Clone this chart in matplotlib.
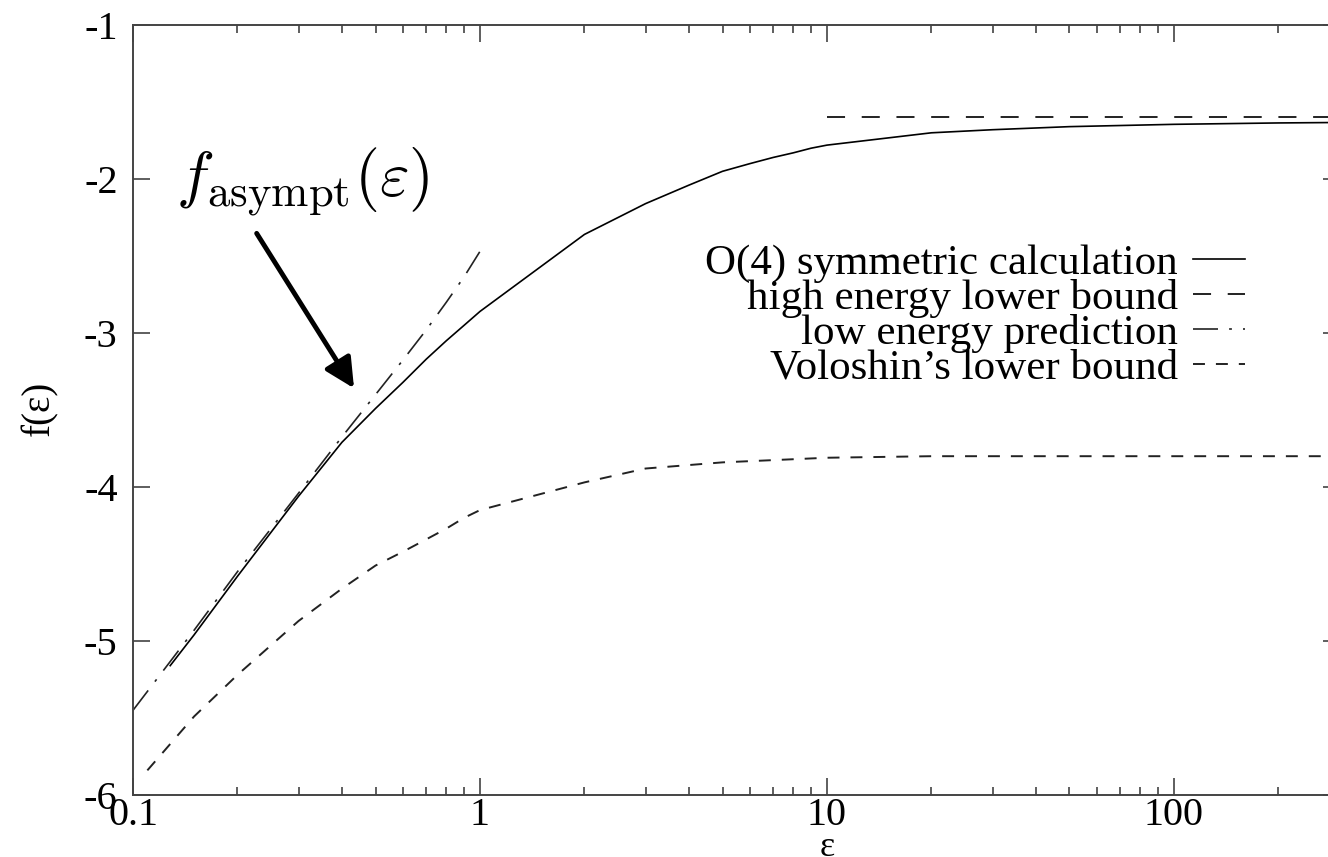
import matplotlib
matplotlib.use("Agg")
import matplotlib.pyplot as plt
from matplotlib.ticker import NullLocator, NullFormatter, LogLocator
from matplotlib.transforms import blended_transform_factory

plt.rcParams["font.family"] = ["Liberation Serif", "DejaVu Serif"]
plt.rcParams["mathtext.fontset"] = "cm"
plt.rcParams["axes.unicode_minus"] = False
plt.rcParams["lines.scale_dashes"] = False

# O(4) symmetric calculation
eps_o4 = [0.128, 0.15, 0.2, 0.3, 0.4, 0.5, 0.6, 0.7, 0.8, 0.9, 1, 2, 3, 4, 5, 6, 7, 8, 9,
          10, 20, 30, 50, 100, 200, 300]
f_o4 = [-5.16, -4.96, -4.58, -4.06, -3.71, -3.49, -3.32, -3.17, -3.05, -2.95, -2.86,
        -2.36, -2.16, -2.04, -1.95, -1.90, -1.86, -1.83, -1.80,
        -1.78, -1.70, -1.68, -1.66, -1.645, -1.636, -1.633]

# high energy lower bound
eps_high = [10, 300]
f_high = [-1.60, -1.60]

# low energy prediction
eps_low = [0.1, 0.15, 0.2, 0.3, 0.4, 0.5, 0.6, 0.7, 0.8, 0.9, 1.0]
f_low = [-5.45, -4.93, -4.55, -4.04, -3.675, -3.40, -3.175, -2.98, -2.80, -2.635, -2.47]

# Voloshin's lower bound
eps_vol = [0.11, 0.15, 0.2, 0.3, 0.4, 0.5, 0.6, 0.7, 0.8, 0.9, 1, 2, 3, 5, 10, 20, 100, 300]
f_vol = [-5.84, -5.49, -5.22, -4.87, -4.66, -4.51, -4.42, -4.34, -4.27, -4.20, -4.15,
         -3.97, -3.88, -3.84, -3.81, -3.80, -3.80, -3.80]

xticks = [0.1, 1, 10, 100]
xtick_labels = ["0.1", "1", "10", "100"]
yticks = [-6, -5, -4, -3, -2, -1]
ytick_labels = ["-6", "-5", "-4", "-3", "-2", "-1"]

fig = plt.figure(figsize=(13.28, 8.57), dpi=100)
# right spine sits just past the cropped right edge
ax = fig.add_axes([133 / 1328, 62 / 857, 1207 / 1328, 770 / 857])

ax.plot(eps_o4, f_o4, color="black", lw=1.2, label="O(4) symmetric calculation")
ax.plot(eps_high, f_high, color="#222222", lw=1.4, dashes=(13, 12),
        label="high energy lower bound")
ax.plot(eps_low, f_low, color="#222222", lw=1.2, dashes=(18, 8, 2, 8),
        label="low energy prediction")
ax.plot(eps_vol, f_vol, color="#222222", lw=1.4, dashes=(8.6, 7.9),
        label="Voloshin\u2019s lower bound")

ax.set_xscale("log")
ax.set_xlim(0.1, 301)
ax.set_ylim(-6, -1)
ax.set_xticks(xticks, xtick_labels)
ax.set_yticks(yticks, ytick_labels)
ax.xaxis.set_minor_locator(LogLocator(base=10, subs=range(2, 10)))
ax.xaxis.set_minor_formatter(NullFormatter())
ax.yaxis.set_minor_locator(NullLocator())

ax.tick_params(which="both", direction="in", top=True, right=True,
               width=1.1, color="#333333", labelsize=29)
ax.tick_params(which="major", length=12)
ax.tick_params(which="minor", length=6)
ax.tick_params(axis="y", pad=11)
ax.tick_params(axis="x", pad=1.5)
for sp in ax.spines.values():
    sp.set_color("#444444")
    sp.set_linewidth(1.4)

xlab_tr = blended_transform_factory(ax.transData, ax.transAxes)
ax.text(10, -0.068, "\u03b5", transform=xlab_tr, fontsize=26,
        ha="center", va="center", clip_on=False)
fig.text(40 / 1328, 1 - 408 / 857, "f(\u03b5)", rotation=90, fontsize=28,
         ha="center", va="center")

ax.text(0.133, -2.115, r"$f_{\rm asympt}(\varepsilon)$", fontsize=46,
        ha="left", va="baseline")
ax.annotate("", xy=(0.4335, -3.359), xytext=(0.2272, -2.353),
            arrowprops=dict(arrowstyle="-|>,head_length=0.9,head_width=0.45",
                            mutation_scale=20, lw=3.5, color="black",
                            shrinkA=0, shrinkB=0))

ax.legend(loc="upper right", bbox_to_anchor=(1245 / 1328, 1 - 244 / 857),
          bbox_transform=fig.transFigure, frameon=False, markerfirst=False,
          fontsize=31, labelspacing=-0.1, handlelength=1.2, handletextpad=0.36,
          borderpad=0, borderaxespad=0)

fig.savefig("out.png", dpi=100)
